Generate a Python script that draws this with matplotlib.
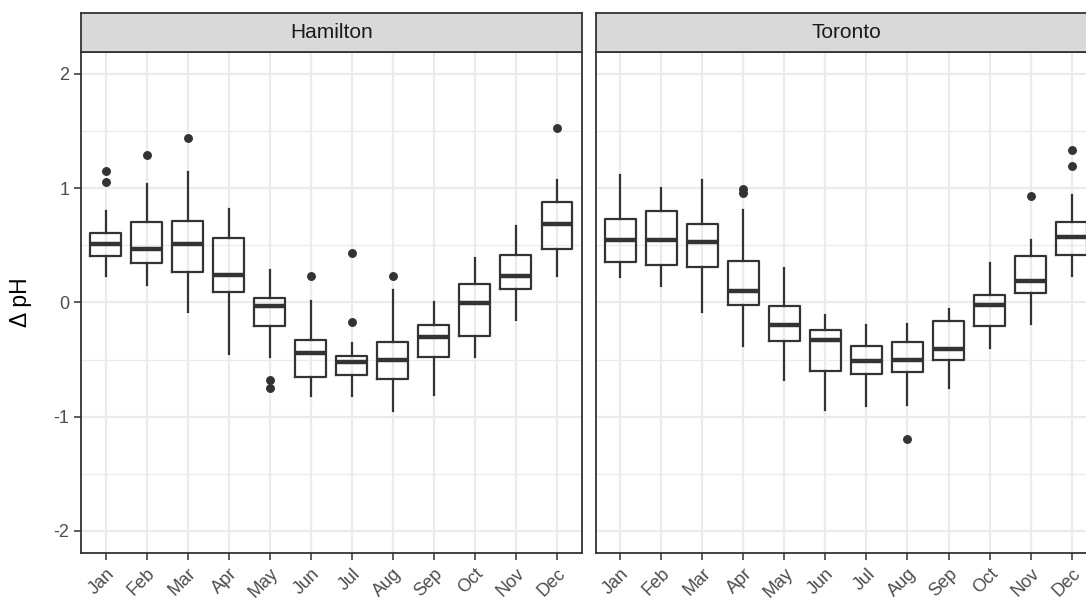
import matplotlib
matplotlib.use("Agg")
import matplotlib.pyplot as plt

plt.rcParams['font.family'] = ['Liberation Sans', 'DejaVu Sans']
plt.rcParams['axes.unicode_minus'] = False

months = ['Jan', 'Feb', 'Mar', 'Apr', 'May', 'Jun',
          'Jul', 'Aug', 'Sep', 'Oct', 'Nov', 'Dec']

# Hamilton: box stats
ham_whishi = [0.80, 1.035, 1.137, 0.813, 0.285, 0.008, -0.357, 0.11, 0.003, 0.388, 0.67, 1.073]
ham_q3 = [0.61, 0.70, 0.708, 0.565, 0.04, -0.327, -0.467, -0.35, -0.196, 0.163, 0.414, 0.874]
ham_med = [0.51, 0.466, 0.513, 0.241, -0.03, -0.444, -0.523, -0.508, -0.307, -0.006, 0.227, 0.685]
ham_q1 = [0.405, 0.346, 0.262, 0.09, -0.205, -0.654, -0.633, -0.668, -0.479, -0.298, 0.116, 0.469]
ham_whislo = [0.23, 0.148, -0.088, -0.45, -0.479, -0.823, -0.817, -0.954, -0.814, -0.479, -0.152, 0.227]
ham_fliers = [[1.145, 1.05], [1.29], [1.437], [], [-0.677, -0.745], [0.227],
              [0.431, -0.173], [0.227], [], [], [], [1.525]]

# Toronto
tor_whishi = [1.11, 1.0, 1.07, 0.804, 0.30, -0.108, -0.196, -0.19, -0.059, 0.344, 0.542, 0.941]
tor_q3 = [0.731, 0.80, 0.685, 0.358, -0.036, -0.24, -0.38, -0.35, -0.167, 0.066, 0.408, 0.703]
tor_med = [0.548, 0.548, 0.528, 0.10, -0.196, -0.327, -0.517, -0.502, -0.406, -0.021, 0.183, 0.571]
tor_q1 = [0.352, 0.329, 0.309, -0.027, -0.336, -0.604, -0.628, -0.613, -0.502, -0.211, 0.081, 0.416]
tor_whislo = [0.221, 0.139, -0.088, -0.38, -0.677, -0.945, -0.905, -0.896, -0.75, -0.40, -0.187, 0.227]
tor_fliers = [[], [], [], [0.96, 0.99], [], [], [], [-1.193], [], [], [0.933], [1.329, 1.189]]

cities = ['Hamilton', 'Toronto']
dark = '#333333'


def make_stats(whishi, q3, med, q1, whislo, fliers):
    stats = []
    for i in range(len(months)):
        stats.append({'whishi': whishi[i], 'q3': q3[i], 'med': med[i],
                      'q1': q1[i], 'whislo': whislo[i], 'fliers': fliers[i]})
    return stats


all_stats = [
    make_stats(ham_whishi, ham_q3, ham_med, ham_q1, ham_whislo, ham_fliers),
    make_stats(tor_whishi, tor_q3, tor_med, tor_q1, tor_whislo, tor_fliers),
]

fig = plt.figure(figsize=(10.86, 6.0), dpi=100)

W, H = 1086.0, 600.0
panel_w = 500.5
lefts = [81.0, 595.7]
bottom_px, top_px = 552.7, 52.0
strip_top = 13.0

for k, city in enumerate(cities):
    ax = fig.add_axes([lefts[k] / W, 1 - bottom_px / H, panel_w / W, (bottom_px - top_px) / H])
    ax.set_axisbelow(True)
    ax.bxp(all_stats[k], positions=range(1, 13), widths=0.75, showcaps=False,
           patch_artist=False,
           boxprops=dict(color=dark, linewidth=1.6),
           whiskerprops=dict(color=dark, linewidth=1.6),
           medianprops=dict(color=dark, linewidth=3.2, solid_capstyle='butt'),
           flierprops=dict(marker='o', markerfacecolor=dark, markeredgecolor=dark,
                           markersize=5.4, linestyle='none'))
    ax.set_xlim(0.4, 12.6)
    ax.set_ylim(-2.19, 2.19)
    ax.set_xticks(range(1, 13))
    ax.set_xticklabels(months, rotation=45, ha='right', va='top',
                       rotation_mode='anchor', fontsize=13, color='#4D4D4D')
    ax.set_yticks([-2, -1, 0, 1, 2])
    ax.set_yticks([-1.5, -0.5, 0.5, 1.5], minor=True)
    ax.tick_params(axis='both', which='major', length=5, width=1.1, color=dark,
                   labelsize=13, labelcolor='#4D4D4D')
    ax.tick_params(axis='y', which='minor', length=0)
    ax.tick_params(axis='x', pad=4)
    ax.grid(True, which='major', color='#EBEBEB', linewidth=1.6)
    ax.grid(True, which='minor', axis='y', color='#EBEBEB', linewidth=0.9)
    for s in ax.spines.values():
        s.set_color(dark)
        s.set_linewidth(1.3)
    if k == 0:
        ax.set_ylabel('Δ pH', fontsize=16.5, color='black')
        ax.yaxis.set_label_coords(-49.0 / panel_w, 0.5)
    else:
        ax.set_yticklabels([])
        ax.tick_params(axis='y', which='major', length=0)

    sax = fig.add_axes([lefts[k] / W, 1 - top_px / H, panel_w / W, (top_px - strip_top) / H])
    sax.set_facecolor('#D9D9D9')
    sax.set_xticks([])
    sax.set_yticks([])
    for s in sax.spines.values():
        s.set_color(dark)
        s.set_linewidth(1.3)
    sax.text(0.5, 0.5, city, ha='center', va='center', fontsize=15,
             color='#1A1A1A', transform=sax.transAxes)

fig.savefig('out.png', dpi=100)
